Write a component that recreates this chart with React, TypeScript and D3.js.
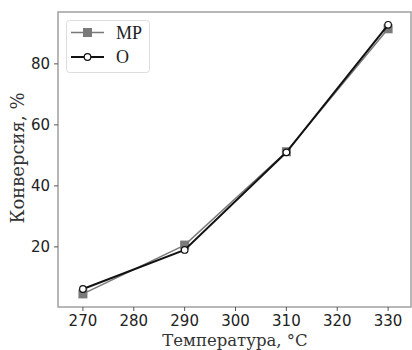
import React from "react";
import * as d3 from "d3";

const temps = [270, 290, 310, 330];
const mpValues = [4.6, 20.6, 51.2, 91.5];
const oValues = [6.2, 19.0, 51.0, 92.8];
const xTicks = [270, 280, 290, 300, 310, 320, 330];
const yTicks = [20, 40, 60, 80];
const seriesNames = ["MP", "O"];

export default function App() {
  const W = 412, H = 350;
  const left = 58, right = 411, top = 12, bottom = 307;
  const x = d3.scaleLinear().domain([265.1, 334.5]).range([left, right]);
  const y = d3.scaleLinear().domain([0.3, 97]).range([bottom, top]);
  const line = d3.line<number>().x((_, i) => x(temps[i])).y((d) => y(d));
  const spine = "#a0a0a0";
  return (
    <svg width={W} height={H} style={{ position: "absolute", left: 0, top: 0, background: "#fff" }}>
      <rect x={left} y={top} width={right - left} height={bottom - top} fill="none" stroke={spine} strokeWidth={1.5} />
      {xTicks.map((t) => (
        <g key={t}>
          <line x1={x(t)} x2={x(t)} y1={bottom} y2={bottom + 4} stroke="#555" />
          <text x={x(t)} y={bottom + 19} textAnchor="middle" fontFamily="DejaVu Sans" fontSize={15} fill="#222">{t}</text>
        </g>
      ))}
      {yTicks.map((t) => (
        <g key={t}>
          <line x1={left - 4} x2={left} y1={y(t)} y2={y(t)} stroke="#555" />
          <text x={left - 8} y={y(t) + 5.5} textAnchor="end" fontFamily="DejaVu Sans" fontSize={15} fill="#222">{t}</text>
        </g>
      ))}
      <text x={235} y={345.5} textAnchor="middle" fontFamily="DejaVu Serif" fontSize={16.5} fill="#333">Температура, °C</text>
      <text transform={`translate(24, 158) rotate(-90)`} textAnchor="middle" fontFamily="DejaVu Serif" fontSize={18} fill="#333">Конверсия, %</text>
      <path d={line(mpValues) || ""} fill="none" stroke="#7a7a7a" strokeWidth={1.5} />
      {mpValues.map((v, i) => (
        <rect key={i} x={x(temps[i]) - 4.5} y={y(v) - 4.5} width={9} height={9} fill="#7a7a7a" />
      ))}
      <path d={line(oValues) || ""} fill="none" stroke="#111" strokeWidth={2} />
      {oValues.map((v, i) => (
        <circle key={i} cx={x(temps[i])} cy={y(v)} r={3.3} fill="#fff" stroke="#111" strokeWidth={1.2} />
      ))}
      <g>
        <rect x={66.5} y={20.5} width={83} height={52} rx={3} fill="#fff" stroke="#ddd" strokeWidth={1} />
        <line x1={71} x2={104} y1={32.5} y2={32.5} stroke="#7a7a7a" strokeWidth={1.5} />
        <rect x={83} y={28} width={9} height={9} fill="#7a7a7a" />
        <text x={116} y={38.5} fontFamily="Liberation Serif" fontSize={18} fill="#222">{seriesNames[0]}</text>
        <line x1={71} x2={104} y1={57} y2={57} stroke="#111" strokeWidth={2} />
        <circle cx={87.5} cy={57} r={3.3} fill="#fff" stroke="#111" strokeWidth={1.2} />
        <text x={116} y={63} fontFamily="Liberation Serif" fontSize={18} fill="#222">{seriesNames[1]}</text>
      </g>
    </svg>
  );
}
